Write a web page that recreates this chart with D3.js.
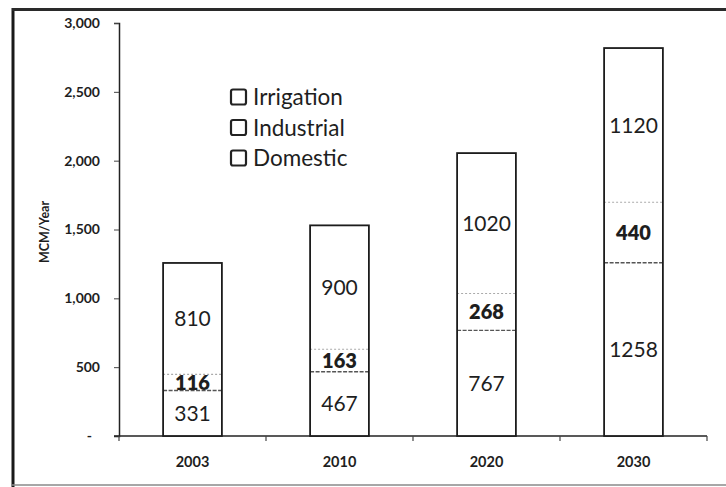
<!DOCTYPE html>
<html>
<head>
<meta charset="utf-8">
<script src="https://cdn.jsdelivr.net/npm/d3@7"></script>
<style>
  html, body { margin: 0; padding: 0; background: #ffffff; }
  svg { display: block; }
  text { font-family: Lato, "Open Sans", sans-serif; fill: #1e1e1e; }
</style>
</head>
<body>
<svg id="chart" width="726" height="487"></svg>
<script>
// Water demand by sector, million cubic metres per year
const years = ["2003", "2010", "2020", "2030"];
const domestic = [331, 467, 767, 1258];
const industrial = [116, 163, 268, 440];
const irrigation = [810, 900, 1020, 1120];
const seriesNames = ["Domestic", "Industrial", "Irrigation"];
const legendOrder = ["Irrigation", "Industrial", "Domestic"];
const yTicks = [0, 500, 1000, 1500, 2000, 2500, 3000];
const yTickLabels = ["-", "500", "1,000", "1,500", "2,000", "2,500", "3,000"];

const svg = d3.select("#chart");

// Outer frame of the figure
svg.append("line").attr("x1", 13).attr("x2", 13).attr("y1", 8).attr("y2", 487)
  .attr("stroke", "#1a1a1a").attr("stroke-width", 3);
svg.append("line").attr("x1", 12).attr("x2", 726).attr("y1", 9.5).attr("y2", 9.5)
  .attr("stroke", "#2a2a2a").attr("stroke-width", 3);
svg.append("line").attr("x1", 12).attr("x2", 726).attr("y1", 485).attr("y2", 485)
  .attr("stroke", "#8a8a8a").attr("stroke-width", 1.5);

const x = d3.scaleBand().domain(years).range([119, 707])
  .paddingInner(0.6).paddingOuter(0.3);
const y = d3.scaleLinear().domain([0, 3000]).range([436, 23]);

const rows = years.map((yr, i) => ({
  year: yr, Domestic: domestic[i], Industrial: industrial[i], Irrigation: irrigation[i]
}));
const stacked = d3.stack().keys(seriesNames)(rows);

// Y axis
const yAxis = svg.append("g").attr("transform", "translate(119,0)")
  .call(d3.axisLeft(y).tickValues(yTicks)
    .tickFormat((d, i) => yTickLabels[i]).tickSize(5).tickPadding(14));
yAxis.select(".domain").attr("stroke", "#222").attr("stroke-width", 1.5);
yAxis.selectAll(".tick line").attr("stroke", "#444");
yAxis.selectAll(".tick text").style("font-family", "Lato, sans-serif")
  .style("font-size", "14px").style("font-weight", "700").attr("fill", "#222");
// the zero label sits a little further left, as in accounting format
yAxis.selectAll(".tick text").filter(d => d === 0).attr("x", -27);

// X axis: baseline with ticks between categories
const step = x.step();
const start = x.range()[0];
const bounds = d3.range(years.length + 1).map(i => start + i * step);
svg.append("line").attr("x1", 114).attr("x2", bounds[bounds.length - 1])
  .attr("y1", y(0)).attr("y2", y(0)).attr("stroke", "#222").attr("stroke-width", 1.5);
svg.selectAll(".xtick").data(bounds).join("line").attr("class", "xtick")
  .attr("x1", d => d).attr("x2", d => d).attr("y1", y(0)).attr("y2", y(0) + 5)
  .attr("stroke", "#444").attr("stroke-width", 1.2);
svg.selectAll(".xlabel").data(years).join("text").attr("class", "xlabel")
  .attr("x", d => x(d) + x.bandwidth() / 2).attr("y", 467)
  .attr("text-anchor", "middle").style("font-size", "14.5px").style("font-weight", "700")
  .text(d => d);

// Y title
svg.append("text").attr("transform", "translate(49,232) rotate(-90)")
  .attr("text-anchor", "middle").style("font-size", "12.5px").style("font-weight", "700")
  .text("MCM/Year");

// Stacked segments (white fill)
const segs = svg.append("g");
stacked.forEach(layer => {
  segs.selectAll(".s-" + layer.key).data(layer).join("rect")
    .attr("x", d => x(d.data.year)).attr("width", x.bandwidth())
    .attr("y", d => y(d[1])).attr("height", d => y(d[0]) - y(d[1]))
    .attr("fill", "#ffffff");
});

// Boundary between domestic and industrial: darker dashed line
svg.selectAll(".b1").data(stacked[0]).join("line")
  .attr("x1", d => x(d.data.year)).attr("x2", d => x(d.data.year) + x.bandwidth())
  .attr("y1", d => y(d[1])).attr("y2", d => y(d[1]))
  .attr("stroke", "#555").attr("stroke-width", 1.4).attr("stroke-dasharray", "4,1.5");
// Boundary between industrial and irrigation: light dotted line
svg.selectAll(".b2").data(stacked[1]).join("line")
  .attr("x1", d => x(d.data.year)).attr("x2", d => x(d.data.year) + x.bandwidth())
  .attr("y1", d => y(d[1])).attr("y2", d => y(d[1]))
  .attr("stroke", "#aaa").attr("stroke-width", 1.2).attr("stroke-dasharray", "2,2");

// Outline of each full stack
svg.selectAll(".outline").data(stacked[2]).join("rect").attr("class", "outline")
  .attr("x", d => x(d.data.year)).attr("width", x.bandwidth())
  .attr("y", d => y(d[1])).attr("height", d => y(0) - y(d[1]))
  .attr("fill", "none").attr("stroke", "#1c1c1c").attr("stroke-width", 1.8);

// Value labels centred in each segment
stacked.forEach(layer => {
  const bold = layer.key === "Industrial";
  svg.selectAll(".v-" + layer.key).data(layer).join("text")
    .attr("x", d => x(d.data.year) + x.bandwidth() / 2)
    .attr("y", d => (y(d[0]) + y(d[1])) / 2)
    .attr("dy", "0.36em").attr("text-anchor", "middle")
    .style("font-size", bold ? "20px" : "21px").style("font-weight", bold ? "800" : "400")
    .text(d => d.data[layer.key]);
});

// Legend
const legend = svg.append("g").attr("transform", "translate(231,97)");
legendOrder.forEach((name, i) => {
  const g = legend.append("g").attr("transform", `translate(0,${i * 30.5})`);
  g.append("rect").attr("x", 0).attr("y", -7.5).attr("width", 15).attr("height", 15).attr("rx", 2)
    .attr("fill", "#fff").attr("stroke", "#222").attr("stroke-width", 2.2);
  g.append("text").attr("x", 22).attr("y", 0).attr("dy", "0.36em")
    .style("font-size", "22.5px").text(name);
});
</script>
</body>
</html>
